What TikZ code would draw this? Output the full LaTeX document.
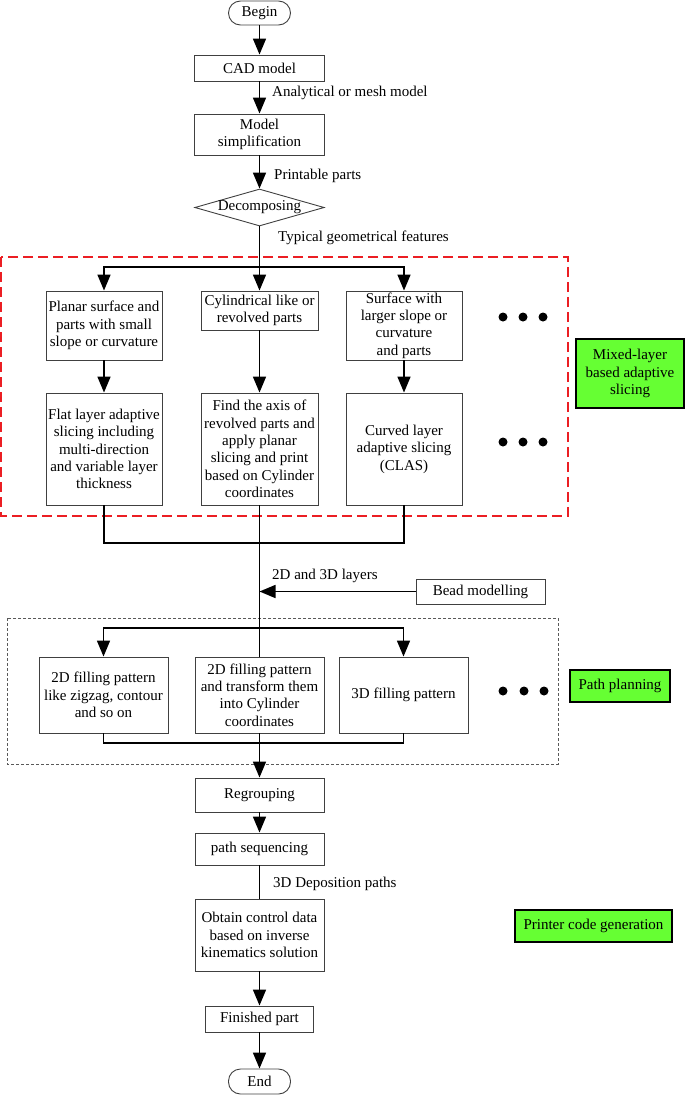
\documentclass[tikz,border=0pt]{standalone}
\usepackage{fontspec}
\setmainfont{Liberation Serif}
\usetikzlibrary{arrows.meta,shapes.geometric}
\definecolor{lgreen}{RGB}{102,255,51}
\definecolor{dred}{RGB}{235,30,35}
\begin{document}
\begin{tikzpicture}[x=1pt,y=-1pt,
  font=\fontsize{15}{17.4}\selectfont,
  box/.style={draw=black!75, line width=0.9pt, inner sep=0pt, align=center},
  term/.style={box, rounded corners=12pt},
  gbox/.style={draw=black, line width=1.2pt, fill=lgreen, inner sep=0pt, align=center},
  conn/.style={line width=1.6pt},
  arr/.style={conn, -{Triangle[length=16pt,width=13pt]}},
  lab/.style={anchor=west, inner sep=0pt},
  dot/.style={circle, fill=black, inner sep=0pt, minimum size=9pt},
]
\useasboundingbox (0,0) rectangle (685,1095);

% frames
\draw[dred, line width=1.8pt, dash pattern=on 10pt off 5pt] (1,257) rectangle (568,516);
\draw[black!65, line width=0.8pt, dash pattern=on 3pt off 2pt] (7,618) rectangle (558,764);

% top column
\node[term, minimum width=62pt, minimum height=24pt] (start) at (259.5,13) {Begin};
\node[box, minimum width=130pt, minimum height=26pt] (cad) at (259.5,68) {CAD model};
\node[box, minimum width=130pt, minimum height=41pt] (simp) at (259.5,134.5) {Model\\simplification};
\node[draw=black!75, line width=0.9pt, diamond, aspect=3.5, inner sep=0pt,
      minimum width=129pt, minimum height=37pt] (dec) at (259.5,207.5) {Decomposing};

\node[lab] (l1) at (272,93) {Analytical or mesh model};
\node[lab] (l2) at (274,176) {Printable parts};
\node[lab] (l3) at (278,238) {Typical geometrical features};

% slicing section
\node[box, minimum width=116pt, minimum height=69pt] (b1) at (104,325.5)
  {Planar surface and\\parts with small\\slope or curvature};
\node[box, minimum width=117pt, minimum height=39pt] (b2) at (259.5,310.5)
  {Cylindrical like or\\revolved parts};
\node[box, minimum width=116pt, minimum height=69pt] (b3) at (404,325.5)
  {Surface with\\larger slope or\\curvature\\and parts};
\node[box, minimum width=116pt, minimum height=112pt] (b4) at (104,449)
  {Flat layer adaptive\\slicing including\\multi-direction\\and variable layer\\thickness};
\node[box, minimum width=117pt, minimum height=112pt] (b5) at (259.5,449)
  {Find the axis of\\revolved parts and\\apply planar\\slicing and print\\based on Cylinder\\coordinates};
\node[box, minimum width=116pt, minimum height=112pt] (b6) at (404,449)
  {Curved layer\\adaptive slicing\\(CLAS)};

\node[dot] (d1) at (503,317) {};
\node[dot] (d2) at (523,317) {};
\node[dot] (d3) at (543,317) {};
\node[dot] (d4) at (503,442) {};
\node[dot] (d5) at (523,442) {};
\node[dot] (d6) at (543,442) {};

\node[gbox, minimum width=108pt, minimum height=69pt] (mix) at (630,373.5)
  {Mixed-layer\\based adaptive\\slicing};

% layers and bead
\node[lab] (l4) at (272,576) {2D and 3D layers};
\node[box, minimum width=129pt, minimum height=25pt] (bead) at (480.5,591.5) {Bead modelling};

% path planning section
\node[box, minimum width=129pt, minimum height=76pt] (p1) at (103.5,695)
  {2D filling pattern\\like zigzag, contour\\and so on};
\node[box, minimum width=129pt, minimum height=76pt] (p2) at (259.5,695)
  {2D filling pattern\\and transform them\\into Cylinder\\coordinates};
\node[box, minimum width=129pt, minimum height=76pt] (p3) at (403.5,695)
  {3D filling pattern};
\node[dot] (d7) at (503,691) {};
\node[dot] (d8) at (524,691) {};
\node[dot] (d9) at (544,691) {};
\node[gbox, minimum width=100pt, minimum height=32pt] (pp) at (620,686) {Path planning};

% bottom column
\node[box, minimum width=129pt, minimum height=34pt] (regr) at (259.5,795) {Regrouping};
\node[box, minimum width=129pt, minimum height=32pt] (pseq) at (259.5,849) {path sequencing};
\node[lab] (l5) at (273,884) {3D Deposition paths};
\node[box, minimum width=129pt, minimum height=72pt] (obt) at (259.5,935)
  {Obtain control data\\based on inverse\\kinematics solution};
\node[box, minimum width=108pt, minimum height=26pt] (fin) at (259.5,1019) {Finished part};
\node[term, minimum width=62pt, minimum height=25pt] (stop) at (259.5,1081.5) {End};
\node[gbox, minimum width=157pt, minimum height=32pt] (pcg) at (593.5,926) {Printer code generation};

% connectors
\coordinate (br) at (259.5,267);
\coordinate (mg) at (259.5,543);
\coordinate (br2) at (259.5,628);
\coordinate (mg2) at (259.5,743);

\draw[arr] (start) -- (cad);
\draw[arr] (cad) -- (simp);
\draw[arr] (simp) -- (dec);
\draw[arr] (dec.south) -- (b2.north);
\draw[arr] (br) -| (b1.north);
\draw[arr] (br) -| (b3.north);
\draw[arr] (b1) -- (b4);
\draw[arr] (b2) -- (b5);
\draw[arr] (b3) -- (b6);
\draw[conn] (b4.south) |- (b6.south |- mg) -- (b6.south);
\draw[conn] (b5.south) -- (p2.north);
\draw[arr] (bead.west) -- (bead.west -| p2.north);
\draw[arr] (br2) -| (p1.north);
\draw[arr] (br2) -| (p3.north);
\draw[conn] (p1.south) |- (p3.south |- mg2) -- (p3.south);
\draw[arr] (p2.south) -- (regr.north);
\draw[arr] (regr) -- (pseq);
\draw[conn] (pseq) -- (obt);
\draw[arr] (obt) -- (fin);
\draw[arr] (fin) -- (stop);
\end{tikzpicture}
\end{document}
